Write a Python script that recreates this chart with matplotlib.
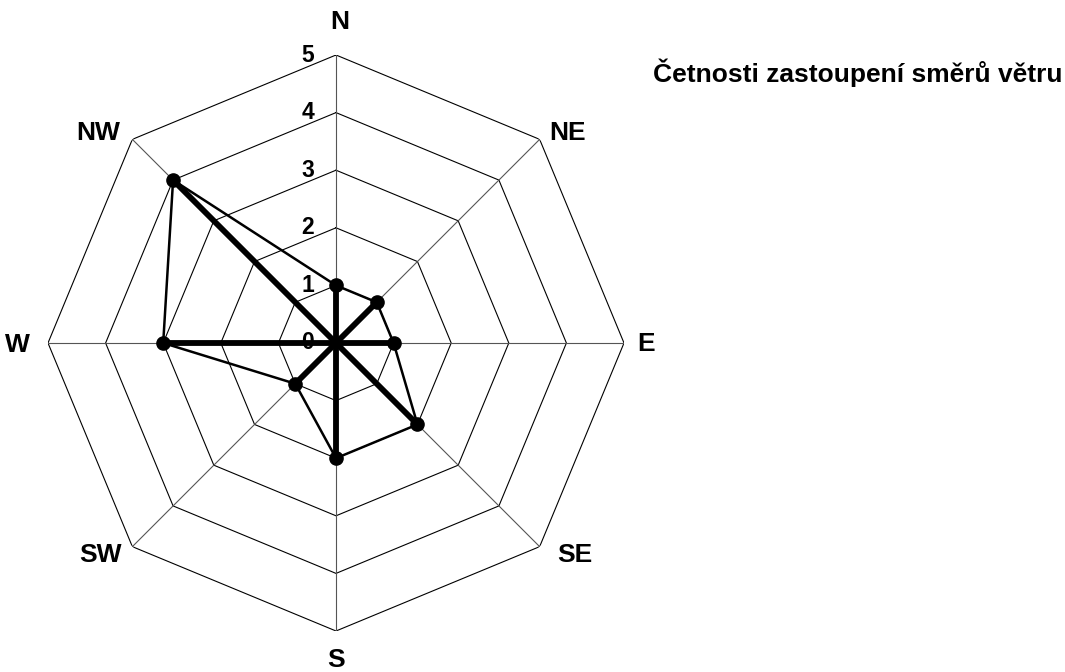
import numpy as np
import matplotlib
matplotlib.use("Agg")
import matplotlib.pyplot as plt

plt.rcParams['font.family'] = ['Liberation Sans', 'DejaVu Sans']

# directions and frequencies
directions = ["N", "NE", "E", "SE", "S", "SW", "W", "NW"]
counts = [1, 1, 1, 2, 2, 1, 3, 4]
ring_values = [0, 1, 2, 3, 4, 5]
title = "Četnosti zastoupení směrů větru"

# label offsets from the outer vertex, in pixels (dx, dy up)
label_offsets = [(4, 33), (28, 6), (22, -1), (35, -8), (0, -29), (-32, -8), (-31, -2), (-34, 6)]

fig = plt.figure(figsize=(10.65, 6.72), dpi=100)
ax = fig.add_axes([48 / 1065, 41 / 672, 576 / 1065, 576 / 672], projection='polar')
ax.set_theta_zero_location('N')
ax.set_theta_direction(-1)
ax.set_ylim(0, 5)
ax.grid(False)
ax.spines['polar'].set_visible(False)
ax.set_xticks([])
ax.set_yticks([])
ax.patch.set_alpha(0)

angles = np.linspace(0, 2 * np.pi, len(directions), endpoint=False)
closed = np.append(angles, angles[0])

# octagon rings
for r in ring_values[1:]:
    ax.plot(closed, [r] * len(closed), color='black', lw=0.8, zorder=1)
# grid spokes
for a in angles:
    ax.plot([a, a], [0, ring_values[-1]], color='#555555', lw=0.8, zorder=1)

# data: thick spokes, thin outline, markers
for a, v in zip(angles, counts):
    ax.plot([a, a], [0, v], color='black', lw=4.2, solid_capstyle='butt', zorder=3)
vals = counts + counts[:1]
ax.plot(closed, vals, color='black', lw=1.8, zorder=3)
ax.plot(angles, counts, 'o', color='black', ms=9.5, zorder=4)

# radial tick labels
for r in ring_values:
    ax.annotate(str(r), xy=(0, r), xytext=(-28 * 0.72, 0), textcoords='offset points',
                ha='center', va='center', fontsize=16.5, fontweight='bold', zorder=2)

# direction labels
for a, name, (dx, dy) in zip(angles, directions, label_offsets):
    ax.annotate(name, xy=(a, ring_values[-1]), xytext=(dx * 0.72, dy * 0.72),
                textcoords='offset points', ha='center', va='center',
                fontsize=19, fontweight='bold', annotation_clip=False)

fig.text(653 / 1065, 1 - 73 / 672, title, ha='left', va='center',
         fontsize=19, fontweight='bold')

fig.savefig("out.png", dpi=100)
